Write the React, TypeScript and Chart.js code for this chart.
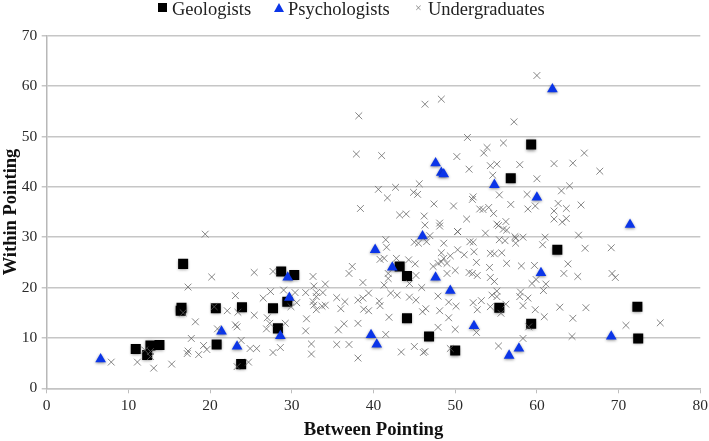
import { useEffect, useRef } from 'react';
import { Chart, registerables } from 'chart.js';

Chart.register(...registerables);

const seriesNames = ['Geologists', 'Psychologists', 'Undergraduates'];
const xTicks = [0, 10, 20, 30, 40, 50, 60, 70, 80];
const yTicks = [0, 10, 20, 30, 40, 50, 60, 70];

const geologists = [
  [16.7, 24.7], [16.5, 16.0], [16.4, 15.4], [20.7, 15.9], [23.9, 16.1], [27.7, 15.9], [28.3, 11.9],
  [10.9, 7.8], [12.7, 8.5], [12.3, 6.6], [13.8, 8.6], [20.8, 8.7], [23.8, 4.8], [28.7, 23.2],
  [30.3, 22.5], [29.45, 17.2], [43.2, 24.2], [44.1, 22.3], [44.1, 13.9], [46.8, 10.3], [50.0, 7.5],
  [55.4, 16.0], [62.5, 27.5], [59.3, 12.8], [72.3, 16.2], [72.4, 9.9], [59.3, 48.4], [56.8, 41.7],
];

const psychologists = [
  [6.6, 5.8], [21.4, 11.3], [23.3, 8.3], [29.5, 22.0], [29.7, 18.0], [28.6, 10.4], [40.2, 27.5],
  [39.7, 10.6], [40.4, 8.7], [42.3, 24.0], [46.0, 30.2], [47.6, 22.0], [49.4, 19.4], [52.3, 12.4],
  [56.6, 6.5], [60.5, 22.9], [57.8, 7.9], [69.1, 10.3], [47.6, 44.7], [48.3, 42.8], [48.6, 42.5],
  [54.8, 40.4], [60.0, 37.9], [61.9, 59.4], [71.4, 32.5],
];

const undergraduates = [
  [7.9, 5.2], [11.1, 5.2], [13.1, 4.0], [15.3, 4.8], [17.3, 7.4], [17.2, 6.9], [18.6, 6.7], [19.2, 8.5],
  [19.6, 7.7], [17.7, 9.9], [18.2, 13.2], [17.3, 20.1], [20.2, 22.1], [19.4, 30.6], [25.4, 23.0], [27.7, 23.2],
  [27.4, 19.2], [26.5, 17.9], [23.1, 18.4], [25.4, 14.5], [27.0, 14.0], [27.3, 12.9], [26.9, 11.8], [22.1, 15.4],
  [23.4, 15.1], [20.5, 16.2], [16.7, 15.0], [23.1, 12.6], [23.3, 12.2], [20.9, 11.8], [23.8, 9.5], [24.9, 7.9],
  [25.7, 7.9], [27.7, 7.1], [23.3, 4.3], [24.7, 5.2], [12.7, 7.3], [12.0, 7.6], [12.7, 6.3],
  [29.0, 19.5], [30.4, 19.0], [31.7, 19.0], [32.6, 22.2], [32.7, 20.3], [34.1, 20.7], [33.8, 19.0], [33.0, 19.0],
  [33.0, 18.2], [32.6, 17.2], [34.1, 16.5], [33.7, 16.3], [32.7, 16.5], [33.0, 15.6], [31.8, 13.8], [31.7, 11.4],
  [32.4, 8.8], [32.4, 6.8], [30.6, 17.0], [29.9, 16.2], [29.2, 12.9], [28.6, 8.1], [35.5, 18.0], [36.5, 17.2],
  [36.0, 15.8], [35.7, 11.6], [36.4, 12.8], [35.5, 8.7], [37.0, 8.7], [38.1, 6.0], [38.1, 12.9], [37.0, 22.8],
  [37.4, 24.2], [38.7, 21.0], [38.1, 17.5], [38.7, 17.9], [39.4, 18.9], [38.8, 15.7], [39.4, 15.4], [40.7, 17.3],
  [40.8, 16.4], [41.3, 20.5], [42.1, 18.9], [42.9, 18.5], [41.9, 14.1], [41.5, 10.7], [43.4, 7.2], [45.0, 8.3],
  [46.3, 7.3], [46.1, 7.1], [49.4, 7.9], [44.4, 18.1], [45.2, 17.5], [45.9, 20.0], [44.4, 20.8], [45.2, 22.4],
  [45.1, 24.7], [44.3, 25.5], [42.8, 25.8], [41.3, 25.8], [40.8, 25.6], [41.6, 28.0], [41.5, 29.5], [45.0, 29.0],
  [45.5, 28.8], [46.5, 29.1], [48.6, 28.8], [41.8, 22.8], [41.8, 21.8], [46.4, 15.8], [46.0, 15.2], [48.1, 15.4],
  [47.9, 18.3], [49.2, 17.1], [50.1, 16.3], [49.2, 14.0], [47.9, 12.1], [50.0, 11.7], [47.3, 24.2], [47.9, 24.8],
  [48.3, 26.9], [48.6, 25.8], [49.4, 26.3], [50.0, 23.4], [49.0, 22.8], [48.3, 25.1], [49.0, 24.8], [50.3, 27.5],
  [51.1, 26.5], [52.3, 27.1], [52.6, 25.0], [51.8, 29.1], [52.2, 29.0], [50.3, 31.1], [53.7, 30.8], [54.3, 26.8],
  [54.8, 26.7], [55.7, 26.9], [54.2, 24.0], [56.3, 24.8], [51.7, 23.0], [52.1, 22.8], [52.7, 22.4], [54.3, 22.0],
  [54.8, 21.2], [54.5, 18.5], [55.1, 19.3], [55.1, 18.2], [52.2, 17.0], [53.2, 17.4], [52.7, 15.6], [54.3, 16.2],
  [55.6, 14.9], [52.6, 11.1], [55.3, 8.4], [55.4, 29.5], [56.1, 29.3], [57.4, 29.8], [57.4, 28.8], [58.3, 30.0],
  [61.0, 30.0], [60.7, 28.5], [65.1, 30.4], [65.9, 27.8], [69.1, 27.9], [58.1, 24.3], [59.7, 24.4], [63.8, 24.7],
  [63.3, 22.8], [65.0, 22.2], [69.2, 22.8], [69.6, 22.0], [59.9, 21.6], [59.4, 20.8], [61.1, 20.7], [60.8, 19.4],
  [58.0, 19.1], [57.9, 18.2], [58.9, 17.9], [58.3, 16.4], [59.8, 15.6], [62.8, 16.1], [66.0, 16.0], [56.2, 16.7],
  [60.9, 14.2], [64.4, 13.9], [70.9, 12.5], [75.1, 13.0], [59.0, 12.2], [58.3, 9.9], [64.3, 10.3],
  [60.0, 62.1], [46.3, 56.4], [48.3, 57.4], [38.2, 54.1], [57.2, 52.9], [51.5, 49.8], [55.9, 48.7], [53.9, 47.8],
  [53.5, 46.7], [37.9, 46.5], [41.0, 46.2], [50.2, 46.0], [57.9, 44.4], [55.1, 44.5], [54.3, 44.2], [51.7, 43.5],
  [54.6, 42.3], [45.6, 40.6], [42.7, 39.9], [40.6, 39.5], [44.9, 38.9], [45.4, 38.5], [41.7, 37.8], [38.4, 35.7],
  [47.4, 36.6], [49.8, 36.2], [52.2, 38.0], [52.1, 37.5], [55.4, 38.4], [58.8, 38.5], [60.0, 41.6], [56.8, 36.5],
  [59.8, 36.2], [58.9, 35.6], [53.4, 35.5], [54.1, 35.9], [53.0, 35.6], [54.7, 34.7], [43.2, 34.4], [44.0, 34.6],
  [46.2, 34.2], [46.3, 32.4], [48.1, 32.8], [48.1, 32.2], [51.4, 33.6], [56.2, 33.1], [55.1, 32.6], [55.3, 32.3],
  [55.9, 31.6], [56.3, 31.4], [50.3, 31.1], [57.3, 30.1], [46.9, 30.3], [65.8, 46.7], [62.1, 44.6], [64.4, 44.7],
  [67.7, 43.1], [64.0, 40.2], [63.0, 39.2], [62.6, 36.7], [63.6, 35.7], [65.4, 36.4], [62.1, 35.2], [62.1, 33.6],
  [63.6, 33.7], [63.1, 33.0],
];

const toPoints = (rows: number[][]) => rows.map(([x, y]) => ({ x, y }));

// the Excel-style soft shadow under the filled markers
const markerShadow = {
  id: 'markerShadow',
  beforeDatasetDraw(chart: Chart, args: { index: number }) {
    if (args.index === 2) return;
    const ctx = chart.ctx;
    ctx.save();
    ctx.shadowColor = 'rgba(0,0,0,0.45)';
    ctx.shadowBlur = 3;
    ctx.shadowOffsetY = 1;
  },
  afterDatasetDraw(chart: Chart, args: { index: number }) {
    if (args.index !== 2) chart.ctx.restore();
  },
};

const serif = '"Liberation Serif", serif';
const legendText = { position: 'absolute', top: 0, lineHeight: '18px', fontSize: 18.5, color: '#222', whiteSpace: 'nowrap' } as const;

export default function App() {
  const canvasRef = useRef<HTMLCanvasElement | null>(null);

  useEffect(() => {
    if (!canvasRef.current) return;
    const chart = new Chart(canvasRef.current, {
      type: 'scatter',
      plugins: [markerShadow],
      data: {
        datasets: [
          {
            label: seriesNames[0],
            data: toPoints(geologists),
            pointStyle: 'rect',
            pointRadius: 7.1,
            backgroundColor: '#000',
            borderColor: '#000',
            borderWidth: 0,
            order: 3,
          },
          {
            label: seriesNames[1],
            data: toPoints(psychologists),
            pointStyle: 'triangle',
            pointRadius: 6.2,
            backgroundColor: '#0b35e8',
            borderColor: '#0b35e8',
            borderWidth: 0,
            order: 2,
          },
          {
            label: seriesNames[2],
            data: toPoints(undergraduates),
            pointStyle: 'crossRot',
            pointRadius: 4.8,
            borderColor: 'rgba(95,95,95,0.75)',
            borderWidth: 1,
            order: 1,
          },
        ],
      },
      options: {
        animation: false,
        responsive: false,
        layout: { padding: { top: 35.7, right: 8.7, left: 0, bottom: 0 } },
        plugins: { legend: { display: false }, tooltip: { enabled: false } },
        scales: {
          x: {
            type: 'linear',
            min: 0,
            max: 80,
            afterFit: (s) => {
              s.height = 52.7;
              s.paddingLeft = 0;
              s.paddingRight = 0;
            },
            afterBuildTicks: (s) => { s.ticks = xTicks.map((value) => ({ value })); },
            grid: { drawOnChartArea: false, tickLength: 5, tickColor: '#bdbdbd', tickWidth: 1 },
            border: { color: '#c4c4c4', width: 1.5 },
            ticks: { color: '#2b2b2b', padding: 3, maxRotation: 0, font: { family: serif, size: 15.5 } },
            title: {
              display: true,
              text: 'Between Pointing',
              color: '#111',
              padding: 0,
              font: { family: serif, size: 18.7, weight: 'bold' },
            },
          },
          y: {
            type: 'linear',
            min: 0,
            max: 70,
            afterFit: (s) => {
              s.width = 46.7;
              s.paddingTop = 0;
              s.paddingBottom = 0;
            },
            afterBuildTicks: (s) => { s.ticks = yTicks.map((value) => ({ value })); },
            grid: { color: '#c6c6c6', lineWidth: 1.5, tickLength: 5 },
            border: { color: '#b8b8b8', width: 1.5 },
            ticks: { color: '#2b2b2b', padding: 4.5, font: { family: serif, size: 15.5 } },
            title: {
              display: true,
              text: 'Within Pointing',
              color: '#111',
              padding: 0,
              font: { family: serif, size: 18.5, weight: 'bold' },
            },
          },
        },
      },
    });
    return () => chart.destroy();
  }, []);

  return (
    <div style={{ position: 'fixed', left: 0, top: 0, width: 709, height: 441, background: '#fff', fontFamily: serif }}>
      <canvas ref={canvasRef} width={709} height={441} style={{ position: 'absolute', left: 0, top: 0 }} />
      <div style={{ position: 'absolute', left: 158, top: 3, width: 9, height: 9, background: '#000' }} />
      <span style={{ ...legendText, left: 172 }}>{seriesNames[0]}</span>
      <div
        style={{
          position: 'absolute',
          left: 274,
          top: 3,
          width: 0,
          height: 0,
          borderLeft: '5px solid transparent',
          borderRight: '5px solid transparent',
          borderBottom: '9px solid #0b35e8',
        }}
      />
      <span style={{ ...legendText, left: 288 }}>{seriesNames[1]}</span>
      <span style={{ position: 'absolute', left: 415, top: 1, fontSize: 12, lineHeight: '14px', color: '#8a8a8a' }}>×</span>
      <span style={{ ...legendText, left: 428 }}>{seriesNames[2]}</span>
    </div>
  );
}
